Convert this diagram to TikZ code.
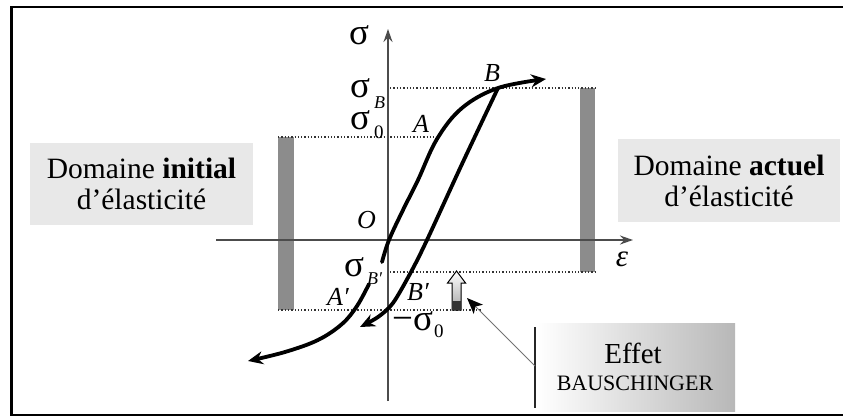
\documentclass[tikz,border=0pt]{standalone}
\usepackage{fontspec}
\setmainfont{Liberation Serif}
\usetikzlibrary{arrows.meta}
\begin{document}
\begin{tikzpicture}[x=1pt,y=-1pt,
  axisline/.style={draw=black!55, line width=1.6pt},
  curveline/.style={line width=3.8pt, line cap=round},
  tipcurve/.style={-{Stealth[length=15pt,width=13pt,inset=5pt]}},
  dotline/.style={line width=1.3pt, dotted, black!80},
  barfill/.style={fill=black!45, draw=none},
  bigtext/.style={font=\fontsize{29}{31}\selectfont, inner sep=0pt},
  sigtext/.style={font=\fontsize{37}{38}\selectfont, inner sep=0pt, anchor=base west, text height=15pt, text depth=0pt},
  subtext/.style={font=\fontsize{18}{20}\selectfont\itshape, inner sep=0pt, anchor=base west, text height=12pt, text depth=0pt},
  subup/.style={font=\fontsize{19}{20}\selectfont, inner sep=0pt, anchor=base west, text height=12pt, text depth=0pt},
  italtext/.style={font=\fontsize{26}{28}\selectfont\itshape, inner sep=0pt, anchor=base west, text height=17pt, text depth=0pt},
  domainbox/.style={fill=black!9, inner sep=0pt, align=center, font=\fontsize{29.5}{31}\selectfont}
]
\useasboundingbox (0,0) rectangle (843,417);
% frame
\draw[line width=2.6pt] (843,7) -- (11.5,7) -- (11.5,415) -- (843,415);

% bars
\fill[barfill] (278,137) rectangle (294,310);
\fill[barfill] (580,88) rectangle (595,272);

% dotted lines
\coordinate (sBl) at (390,88);  \coordinate (sBr) at (595,88);
\coordinate (s0l) at (278,137); \coordinate (s0r) at (434,137);
\coordinate (sBpl) at (390,272); \coordinate (sBpr) at (595,272);
\coordinate (ms0l) at (278,310); \coordinate (ms0r) at (482,310);
\draw[dotline] (sBl) -- (sBr);
\draw[dotline] (s0l) -- (s0r);
\draw[dotline] (sBpl) -- (sBpr);
\draw[dotline] (ms0l) -- (ms0r);

% axes
\coordinate (ybot) at (388,401); \coordinate (ytop) at (388,29);
\coordinate (xl) at (216,240); \coordinate (xr) at (633,240);
\draw[axisline, -{Stealth[length=13pt,width=9pt]}, black!70] (ybot) -- (ytop);
\draw[axisline, -{Stealth[length=13pt,width=9pt]}, black!70] (xl) -- (xr);

% main loading curve (two parts, gap at sigma_B')
\draw[curveline, tipcurve] plot[smooth, tension=0.6] coordinates {(369,284) (357,306) (342,324) (318,340) (285,352) (248,361)};
\draw[curveline, tipcurve] plot[smooth, tension=0.6] coordinates {(382,262) (389,240) (403,210) (418,180) (437,139) (462,108) (498,88) (546,79)};
% unloading curve
\draw[curveline, tipcurve] plot[smooth, tension=0.5] coordinates {(498,88) (462,164) (427,240) (411,272) (393,303) (378,317) (360,327)};

% labels
\node[sigtext] (sig) at (349,45) {σ};
\node[sigtext] (sigB) at (350,98) {σ};
\node[subtext] (sigBs) at (374,109) {B};
\node[sigtext] (sig0) at (350,129) {σ};
\node[subup] (sig0s) at (374,139) {0};
\node[italtext] (lA) at (413,133) {A};
\node[italtext] (lB) at (484,82) {B};
\node[italtext] (lO) at (357,228) {O};
\node[sigtext] (sigBp) at (344,276) {σ};
\node[subtext] (sigBps) at (367,284) {B′};
\node[italtext] (lAp) at (327,305) {A′};
\node[italtext] (lBp) at (407,300) {B′};
\node[sigtext] (msig0) at (392,330) {−σ};
\node[subup] (msig0s) at (434,337) {0};
\node[font=\fontsize{31}{32}\selectfont\itshape, inner sep=0pt] (eps) at (622,259) {ε};

% hollow arrow (Bauschinger)
\shade[bottom color=black!35, top color=white, draw=black, line width=1pt]
  (452,310) -- (452,283) -- (447.5,283) -- (456.5,271) -- (465.5,283) -- (461,283) -- (461,310) -- cycle;
\fill[black!80] (452,301) rectangle (461,310);

% domain boxes
\node[domainbox, minimum width=223pt, minimum height=82pt] (init) at (141.5,184) {Domaine \textbf{initial}\\d’élasticité};
\node[domainbox, minimum width=222pt, minimum height=83pt] (act) at (729,180.5) {Domaine \textbf{actuel}\\d’élasticité};

% Effet Bauschinger box
\shade[left color=white, right color=black!28] (537,323) rectangle (735,411);
\draw[line width=2.2pt, black!85] (535,327) -- (535,408);
\node[bigtext] (eff) at (633,353) {Effet};
\node[font=\fontsize{22}{24}\selectfont, inner sep=0pt] (bau) at (635,383) {BAUSCHINGER};
\coordinate (pstart) at (535,366);
\coordinate (ptip) at (467,298);
\draw[black!55, line width=1pt, -{Stealth[length=16pt,width=13pt,inset=4pt,color=black,fill=black]}] (pstart) -- (ptip);
\end{tikzpicture}
\end{document}
